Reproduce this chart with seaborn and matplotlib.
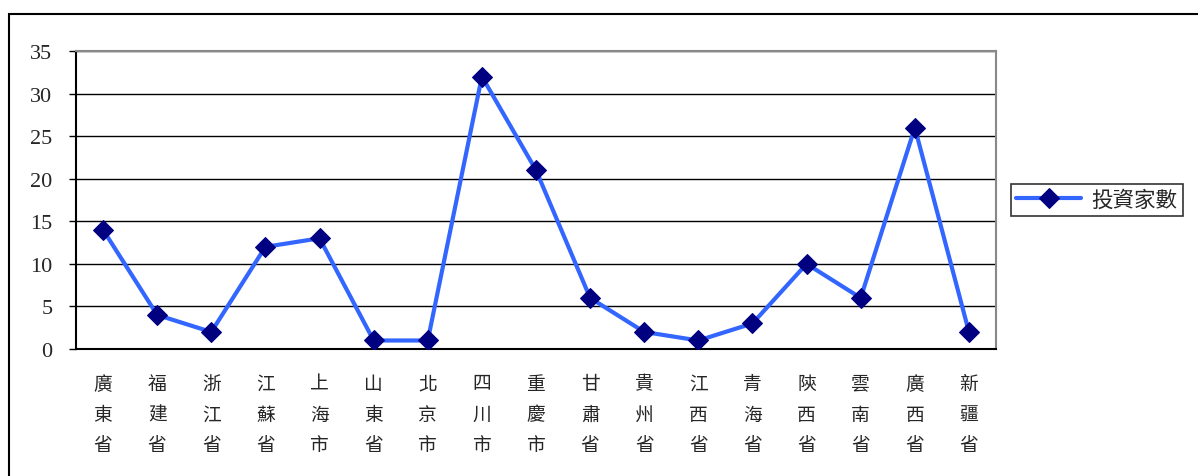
import matplotlib
matplotlib.use("Agg")
import matplotlib.pyplot as plt
from matplotlib.patches import Rectangle
import seaborn as sns
import numpy as np

provinces = ['廣東省', '福建省', '浙江省', '江蘇省', '上海市', '山東省', '北京市', '四川市',
             '重慶市', '甘肅省', '貴州省', '江西省', '青海省', '陝西省', '雲南省', '廣西省', '新疆省']
investors = [14, 4, 2, 12, 13, 1, 1, 32, 21, 6, 2, 1, 3, 10, 6, 26, 2]
series_name = '投資家數'
y_ticks = [0, 5, 10, 15, 20, 25, 30, 35]

sns.set_style("white")
plt.rcParams['font.family'] = ['Noto Sans CJK TC', 'DejaVu Sans']

fig = plt.figure(figsize=(11.98, 4.77), dpi=100)
ax = fig.add_axes([76 / 1198, 127 / 477, 920 / 1198, 298 / 477])

# outer chart frame (right and bottom edges run off the image)
fig.patches.append(Rectangle((9 / 1198, -0.2), 1.2, 0.2 + 1 - 15 / 477,
                             transform=fig.transFigure, fill=False,
                             edgecolor='black', linewidth=1.5))

idx = np.arange(len(provinces))
sns.lineplot(x=idx, y=investors, ax=ax, color='#3366FF', linewidth=3,
             marker='D', markersize=10.5, markerfacecolor='#000080',
             markeredgecolor='#000080', label=series_name, zorder=3)

ax.set_xlim(-0.5, len(provinces) - 0.5)
ax.set_ylim(0, 35)
ax.set_yticks(y_ticks)
ax.set_yticklabels([str(v) for v in y_ticks], family='Liberation Serif', fontsize=16)
ax.yaxis.grid(True, color='black', linewidth=1)
ax.set_axisbelow(True)

ax.set_xticks(idx)
ax.set_xticklabels(['\n'.join(p) for p in provinces], fontsize=13.5, linespacing=1.62)
ax.tick_params(axis='x', which='major', length=0, pad=17)
ax.set_xticks(np.arange(0.5, len(provinces) - 1, 1), minor=True)
ax.tick_params(axis='x', which='minor', length=6, width=1, direction='out', color='black')
ax.tick_params(axis='y', length=5, width=1, direction='out', color='black', pad=12, left=True)

for side in ['left', 'bottom']:
    ax.spines[side].set_color('black')
    ax.spines[side].set_linewidth(1.5)
for side in ['top', 'right']:
    ax.spines[side].set_color('#888888')
    ax.spines[side].set_linewidth(1.5)

ax.get_legend().remove()
handles, labels = ax.get_legend_handles_labels()
leg = fig.legend(handles, labels, loc='center left', bbox_to_anchor=(1011 / 1198, 1 - 201 / 477),
                 frameon=True, fancybox=False, edgecolor='black', fontsize=15.5,
                 handlelength=3.0, borderpad=0.25, handletextpad=0.5, borderaxespad=0)
leg.get_frame().set_linewidth(1.2)

ax.set_xlabel('')
fig.savefig('out.png', dpi=100)
